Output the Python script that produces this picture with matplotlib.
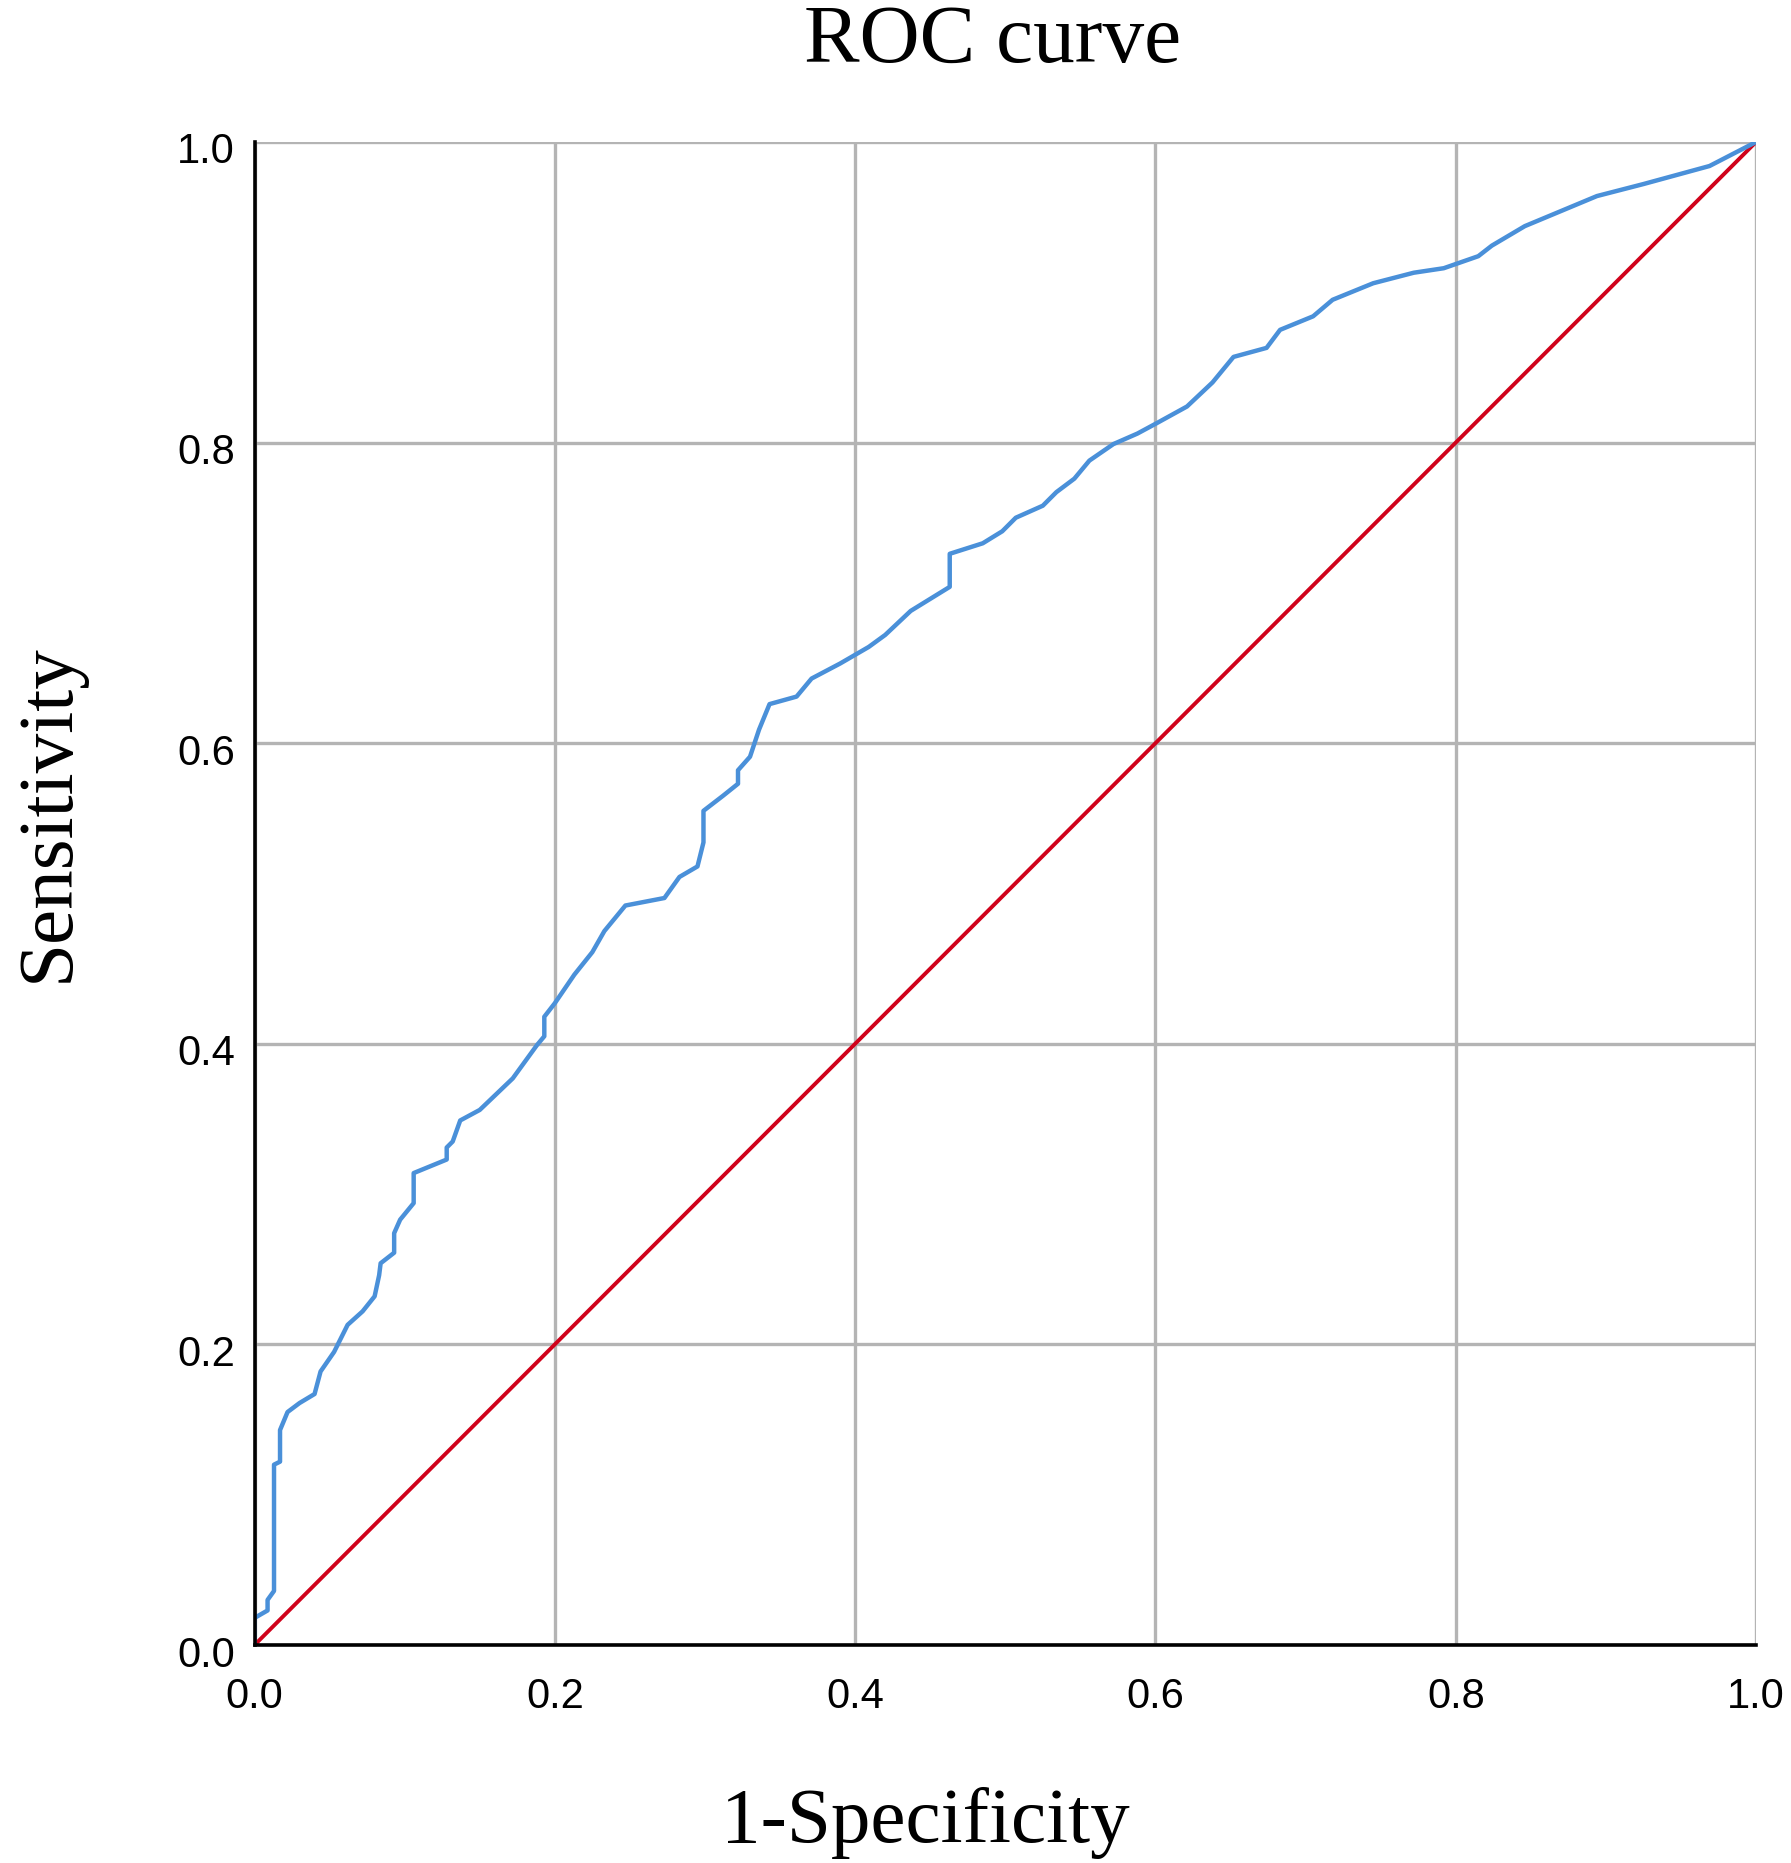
import matplotlib
matplotlib.use('Agg')
import matplotlib.pyplot as plt
import matplotlib.transforms as mtransforms

# ROC curve points
fpr = [0.0, 0.0, 0.0087, 0.0087, 0.013, 0.013, 0.017, 0.017, 0.022, 0.030,
       0.040, 0.044, 0.053, 0.062, 0.072, 0.080, 0.083, 0.084, 0.093, 0.093,
       0.097, 0.106, 0.106, 0.128, 0.128, 0.132, 0.137, 0.150, 0.172, 0.188,
       0.193, 0.193, 0.200, 0.213, 0.225, 0.233, 0.247, 0.273, 0.283, 0.295,
       0.299, 0.299, 0.312, 0.322, 0.322, 0.330, 0.336, 0.343, 0.361, 0.371,
       0.390, 0.409, 0.420, 0.437, 0.463, 0.463, 0.485, 0.498, 0.507, 0.525,
       0.534, 0.546, 0.556, 0.572, 0.588, 0.601, 0.621, 0.638, 0.652, 0.674,
       0.683, 0.705, 0.718, 0.745, 0.772, 0.792, 0.815, 0.824, 0.846, 0.894,
       0.925, 0.969, 1.0]
tpr = [0.0, 0.018, 0.023, 0.030, 0.036, 0.120, 0.122, 0.143, 0.155, 0.161,
       0.167, 0.182, 0.195, 0.213, 0.222, 0.232, 0.246, 0.254, 0.261, 0.274,
       0.283, 0.294, 0.314, 0.323, 0.331, 0.335, 0.349, 0.356, 0.377, 0.399,
       0.405, 0.418, 0.427, 0.446, 0.461, 0.475, 0.492, 0.497, 0.511, 0.518,
       0.534, 0.555, 0.565, 0.573, 0.582, 0.591, 0.609, 0.626, 0.631, 0.643,
       0.653, 0.664, 0.672, 0.688, 0.704, 0.726, 0.733, 0.741, 0.750, 0.758,
       0.767, 0.776, 0.788, 0.799, 0.806, 0.813, 0.824, 0.840, 0.857, 0.863,
       0.875, 0.884, 0.895, 0.906, 0.913, 0.916, 0.924, 0.931, 0.944, 0.964,
       0.972, 0.984, 1.0]
ref_line = [0.0, 1.0]
ticks = [0.0, 0.2, 0.4, 0.6, 0.8, 1.0]
tick_labels = ['0.0', '0.2', '0.4', '0.6', '0.8', '1.0']

fig = plt.figure(figsize=(17.91, 18.63), dpi=100)
ax = fig.add_axes([0.1421, 0.1170, 0.8384, 0.8068])

ax.plot(ref_line, ref_line, color='#d0021b', lw=2.8, zorder=3)
ax.plot(fpr, tpr, color='#4a90d9', lw=3.2, zorder=4)

ax.set_xlim(0, 1)
ax.set_ylim(0, 1)
ax.set_xticks(ticks)
ax.set_xticklabels(tick_labels)
ax.set_yticks(ticks)
ax.set_yticklabels(tick_labels)
ax.tick_params(axis='both', length=0, labelsize=30)
ax.tick_params(axis='x', pad=23)
ax.tick_params(axis='y', pad=14)
for lab in ax.get_xticklabels() + ax.get_yticklabels():
    lab.set_fontfamily('Liberation Sans')
# y tick labels sit a little below their grid lines in the original
shift = mtransforms.ScaledTranslation(0, -6 / 100, fig.dpi_scale_trans)
for lab in ax.get_yticklabels():
    lab.set_transform(lab.get_transform() + shift)

ax.grid(True, color='#b4b4b4', lw=2.4, zorder=1)
ax.set_axisbelow(True)
ax.spines['top'].set_visible(False)
ax.spines['right'].set_visible(False)
for s in ['left', 'bottom']:
    ax.spines[s].set_linewidth(2.6)
    ax.spines[s].set_color('black')
    ax.spines[s].set_zorder(5)

serif = 'Liberation Serif'
fig.text(0.5544, 0.9667, 'ROC curve', ha='center', va='baseline',
         fontsize=60, family=serif)
fig.text(0.5165, 0.0113, '1-Specificity', ha='center', va='baseline',
         fontsize=57, family=serif)
fig.text(0.0276, 0.5636, 'Sensitivity', ha='center', va='center',
         rotation=90, fontsize=57, family=serif)

fig.savefig('out.png', dpi=100)
